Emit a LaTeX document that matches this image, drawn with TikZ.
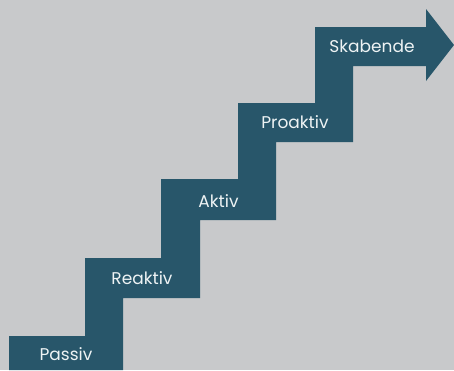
\documentclass[tikz,border=0pt]{standalone}
\usepackage{fontspec}
\setmainfont{Poppins}
\definecolor{bggray}{HTML}{C8C9CB}
\definecolor{stairteal}{HTML}{28566A}
\definecolor{labelwhite}{HTML}{EEF3F4}
\tikzset{steplabel/.style={text=labelwhite, font=\fontsize{17}{20}\selectfont, inner sep=0pt}}

\begin{document}
\begin{tikzpicture}[x=1pt,y=-1pt]

\fill [bggray] (0,0) rectangle (454,370);
\useasboundingbox (0,0) rectangle (454,370);

% staircase, ends in the arrow
\fill [stairteal] (9,370) -- (9,336) -- (85,336) -- (85,258) -- (161,258)
  -- (161,179) -- (238,179) -- (238,103) -- (315,103) -- (315,27)
  -- (426,27) -- (426,9) -- (454,45) -- (426,81) -- (426,66)
  -- (353,66) -- (353,142) -- (276,142) -- (276,220) -- (200,220)
  -- (200,298) -- (123,298) -- (123,370) -- cycle;

% labels on the steps
\node [steplabel] (passiv) at (66,354) {Passiv};
\node [steplabel] (reaktiv) at (142,278.5) {Reaktiv};
\node [steplabel] (aktiv) at (218.5,201) {Aktiv};
\node [steplabel] (proaktiv) at (295,122.5) {Proaktiv};
\node [steplabel] (skabende) at (372,46) {Skabende};

\end{tikzpicture}
\end{document}
